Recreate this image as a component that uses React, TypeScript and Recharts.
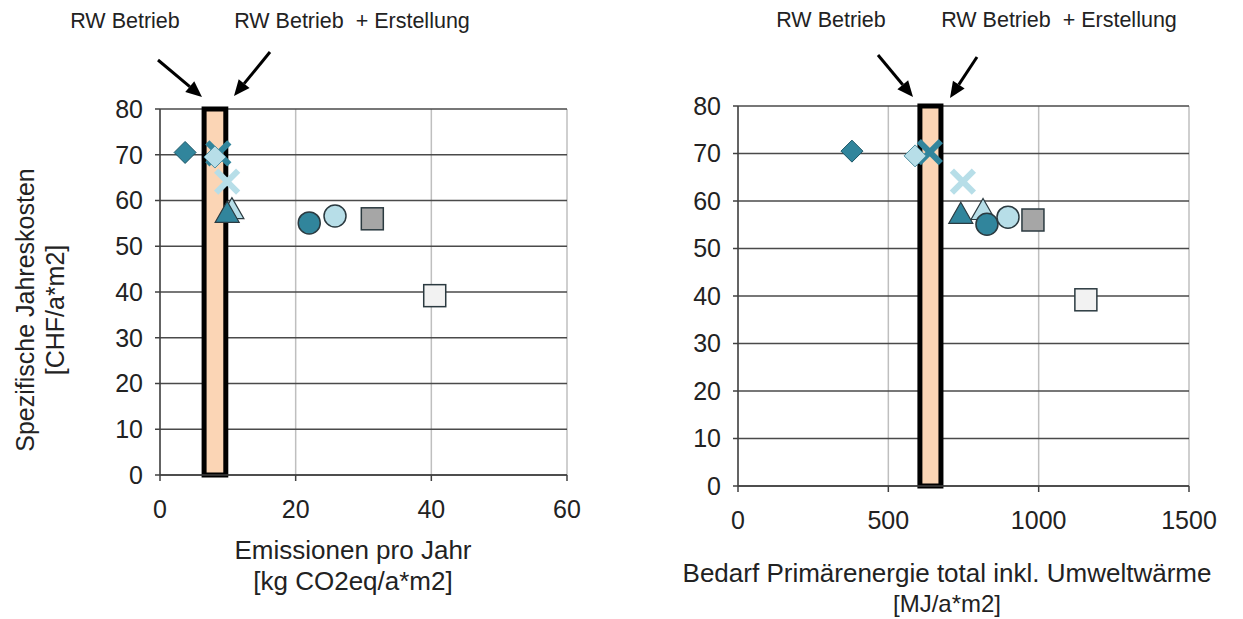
import {
  ScatterChart,
  Scatter,
  XAxis,
  YAxis,
  CartesianGrid,
  ReferenceArea,
} from 'recharts'

// marker order = draw order
const markerKinds = ['diamond', 'x', 'diamond', 'x', 'triangle', 'triangle', 'circle', 'circle', 'square', 'square']
const markerFills = ['#31859C', '#31859C', '#B7DEE8', '#B7DEE8', '#B7DEE8', '#31859C', '#31859C', '#B7DEE8', '#A6A6A6', '#F2F2F2']

const emissions = [3.7, 8.6, 8.1, 9.9, 10.6, 9.9, 22.0, 25.8, 31.3, 40.5]
const primaryEnergy = [379, 638, 589, 748, 815, 741, 828, 898, 981, 1157]
const annualCosts = [70.5, 70.3, 69.5, 64.1, 58.0, 57.2, 55.1, 56.6, 56.0, 39.2]

const bandEmissions = [6.5, 9.7]
const bandEnergy = [605, 675]

const emissionTicks = [0, 20, 40, 60]
const energyTicks = [0, 500, 1000, 1500]
const costTicks = [0, 10, 20, 30, 40, 50, 60, 70, 80]

const FONT = '"Liberation Sans", Arial, sans-serif'
const TEXT = '#222'

function makeShape(kind: string, fill: string) {
  // eslint-disable-next-line @typescript-eslint/no-explicit-any
  return (p: any) => {
    const { cx, cy } = p
    const edge = '#2b3a40'
    if (kind === 'diamond') {
      const r = 11
      return (
        <polygon
          points={`${cx},${cy - r} ${cx + r},${cy} ${cx},${cy + r} ${cx - r},${cy}`}
          fill={fill}
          stroke={fill === '#31859C' ? '#1d5666' : '#4f8fa0'}
          strokeWidth={1}
        />
      )
    }
    if (kind === 'x') {
      const r = 11
      return (
        <g stroke={fill} strokeWidth={6}>
          <line x1={cx - r} y1={cy - r} x2={cx + r} y2={cy + r} />
          <line x1={cx - r} y1={cy + r} x2={cx + r} y2={cy - r} />
        </g>
      )
    }
    if (kind === 'triangle') {
      return (
        <polygon
          points={`${cx},${cy - 12} ${cx + 12},${cy + 9} ${cx - 12},${cy + 9}`}
          fill={fill}
          stroke={edge}
          strokeWidth={1.2}
        />
      )
    }
    if (kind === 'circle') {
      return <circle cx={cx} cy={cy} r={11} fill={fill} stroke={edge} strokeWidth={1.5} />
    }
    return <rect x={cx - 11} y={cy - 11} width={22} height={22} fill={fill} stroke={edge} strokeWidth={1.5} />
  }
}

interface PanelProps {
  xs: number[]
  band: number[]
  xTicks: number[]
  xMax: number
  width: number
  margin: { top: number; right: number; bottom: number; left: number }
}

function Panel({ xs, band, xTicks, xMax, width, margin }: PanelProps) {
  return (
    <ScatterChart width={width} height={619} margin={margin}>
      <CartesianGrid vertical horizontal={false} stroke="#BFBFBF" strokeWidth={1.5} />
      <CartesianGrid vertical={false} horizontal stroke="#4a4a4a" strokeWidth={1.5} />
      <XAxis
        type="number"
        dataKey="x"
        domain={[0, xMax]}
        ticks={xTicks}
        interval={0}
        height={40}
        tickSize={6}
        tickMargin={19}
        stroke="#404040"
        strokeWidth={1.5}
        tick={{ fontSize: 25, fill: TEXT, fontFamily: FONT }}
      />
      <YAxis
        type="number"
        dataKey="y"
        domain={[0, 80]}
        ticks={costTicks}
        interval={0}
        width={60}
        tickSize={5}
        tickMargin={12}
        stroke="#404040"
        strokeWidth={1.5}
        tick={{ fontSize: 25, fill: TEXT, fontFamily: FONT }}
      />
      <ReferenceArea
        x1={band[0]}
        x2={band[1]}
        y1={0}
        y2={80}
        fill="#FBD5B5"
        fillOpacity={1}
        stroke="#000"
        strokeWidth={5}
        ifOverflow="visible"
      />
      {markerKinds.map((k, i) => (
        <Scatter
          key={i}
          data={[{ x: xs[i], y: annualCosts[i] }]}
          shape={makeShape(k, markerFills[i])}
          isAnimationActive={false}
        />
      ))}
    </ScatterChart>
  )
}

function Arrow({ x1, y1, x2, y2 }: { x1: number; y1: number; x2: number; y2: number }) {
  const a = Math.atan2(y2 - y1, x2 - x1)
  const len = 16
  const w = 7
  const bx = x2 - len * Math.cos(a)
  const by = y2 - len * Math.sin(a)
  const px = -Math.sin(a) * w
  const py = Math.cos(a) * w
  return (
    <g>
      <line x1={x1} y1={y1} x2={bx} y2={by} stroke="#000" strokeWidth={3} />
      <polygon points={`${x2},${y2} ${bx + px},${by + py} ${bx - px},${by - py}`} fill="#000" />
    </g>
  )
}

const bothLabel = 'RW Betrieb\u00A0 + Erstellung'

export default function App() {
  return (
    <div style={{ position: 'absolute', left: 0, top: 0, width: 1243, height: 619, background: '#fff', fontFamily: FONT }}>
      <div style={{ position: 'absolute', left: 0, top: 0 }}>
        <Panel
          xs={emissions}
          band={bandEmissions}
          xTicks={emissionTicks}
          xMax={60}
          width={620}
          margin={{ top: 109, right: 53, bottom: 104, left: 100 }}
        />
      </div>
      <div style={{ position: 'absolute', left: 620, top: 0 }}>
        <Panel
          xs={primaryEnergy}
          band={bandEnergy}
          xTicks={energyTicks}
          xMax={1500}
          width={623}
          margin={{ top: 106, right: 54, bottom: 93, left: 58 }}
        />
      </div>
      <svg width={1243} height={619} style={{ position: 'absolute', left: 0, top: 0, pointerEvents: 'none' }}>
        <g fontFamily={FONT} fill={TEXT} textAnchor="middle">
          <text x={125} y={28} fontSize={21.5}>RW Betrieb</text>
          <text x={352} y={28} fontSize={21.5}>{bothLabel}</text>
          <text x={831} y={27} fontSize={21.5}>RW Betrieb</text>
          <text x={1059} y={27} fontSize={21.5}>{bothLabel}</text>

          <text x={353} y={559} fontSize={26}>Emissionen pro Jahr</text>
          <text x={353} y={590} fontSize={26}>[kg CO2eq/a*m2]</text>
          <text x={947} y={582} fontSize={26}>Bedarf Primärenergie total inkl. Umweltwärme</text>
          <text x={947} y={612} fontSize={24}>[MJ/a*m2]</text>

          <text transform="translate(34,310) rotate(-90)" fontSize={25}>Spezifische Jahreskosten</text>
          <text transform="translate(64,310) rotate(-90)" fontSize={25}>[CHF/a*m2]</text>
        </g>
        <Arrow x1={158} y1={60} x2={202} y2={97} />
        <Arrow x1={270} y1={52} x2={234} y2={96} />
        <Arrow x1={878} y1={55} x2={913} y2={97} />
        <Arrow x1={977} y1={57} x2={950} y2={98} />
      </svg>
    </div>
  )
}
